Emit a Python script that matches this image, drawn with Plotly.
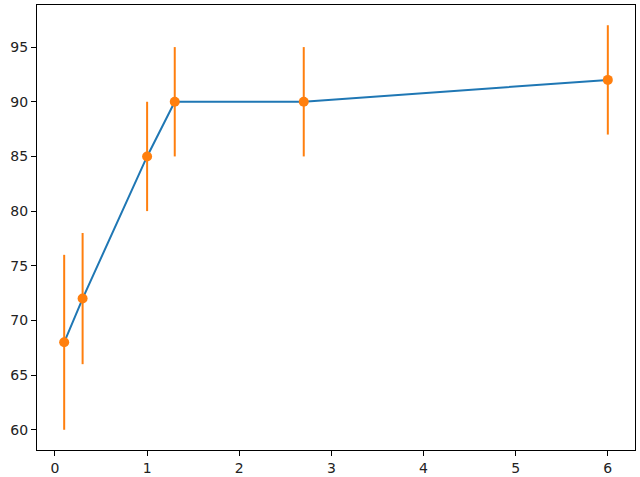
import plotly.graph_objects as go

x_vals = [0.1, 0.3, 1.0, 1.3, 2.7, 6.0]
y_vals = [68, 72, 85, 90, 90, 92]
y_err = [8, 6, 5, 5, 5, 5]
x_ticks = [0, 1, 2, 3, 4, 5, 6]
y_ticks = [60, 65, 70, 75, 80, 85, 90, 95]

fig = go.Figure()
fig.add_trace(go.Scatter(x=x_vals, y=y_vals, mode="lines",
                         line=dict(color="#1f77b4", width=2), showlegend=False))
fig.add_trace(go.Scatter(x=x_vals, y=y_vals, mode="markers",
                         marker=dict(color="#ff7f0e", size=10),
                         error_y=dict(type="data", array=y_err, visible=True,
                                      color="#ff7f0e", thickness=2, width=0),
                         showlegend=False))

axis_common = dict(showline=True, linecolor="black", linewidth=1, mirror=True,
                   ticks="outside", ticklen=5, tickwidth=1, tickcolor="black",
                   showgrid=False, zeroline=False, automargin=False,
                   tickfont=dict(family="DejaVu Sans", size=14, color="#222222"))

fig.update_layout(
    width=640, height=477,
    margin=dict(l=37, r=5, t=5, b=27),
    paper_bgcolor="white", plot_bgcolor="white",
    xaxis=dict(range=[-0.195, 6.295], tickvals=x_ticks, **axis_common),
    yaxis=dict(range=[58.15, 98.85], tickvals=y_ticks, **axis_common),
)

fig.write_html("out.html", config={"displayModeBar": False},
               post_script="document.body.style.margin='0';document.body.style.overflow='hidden';")
